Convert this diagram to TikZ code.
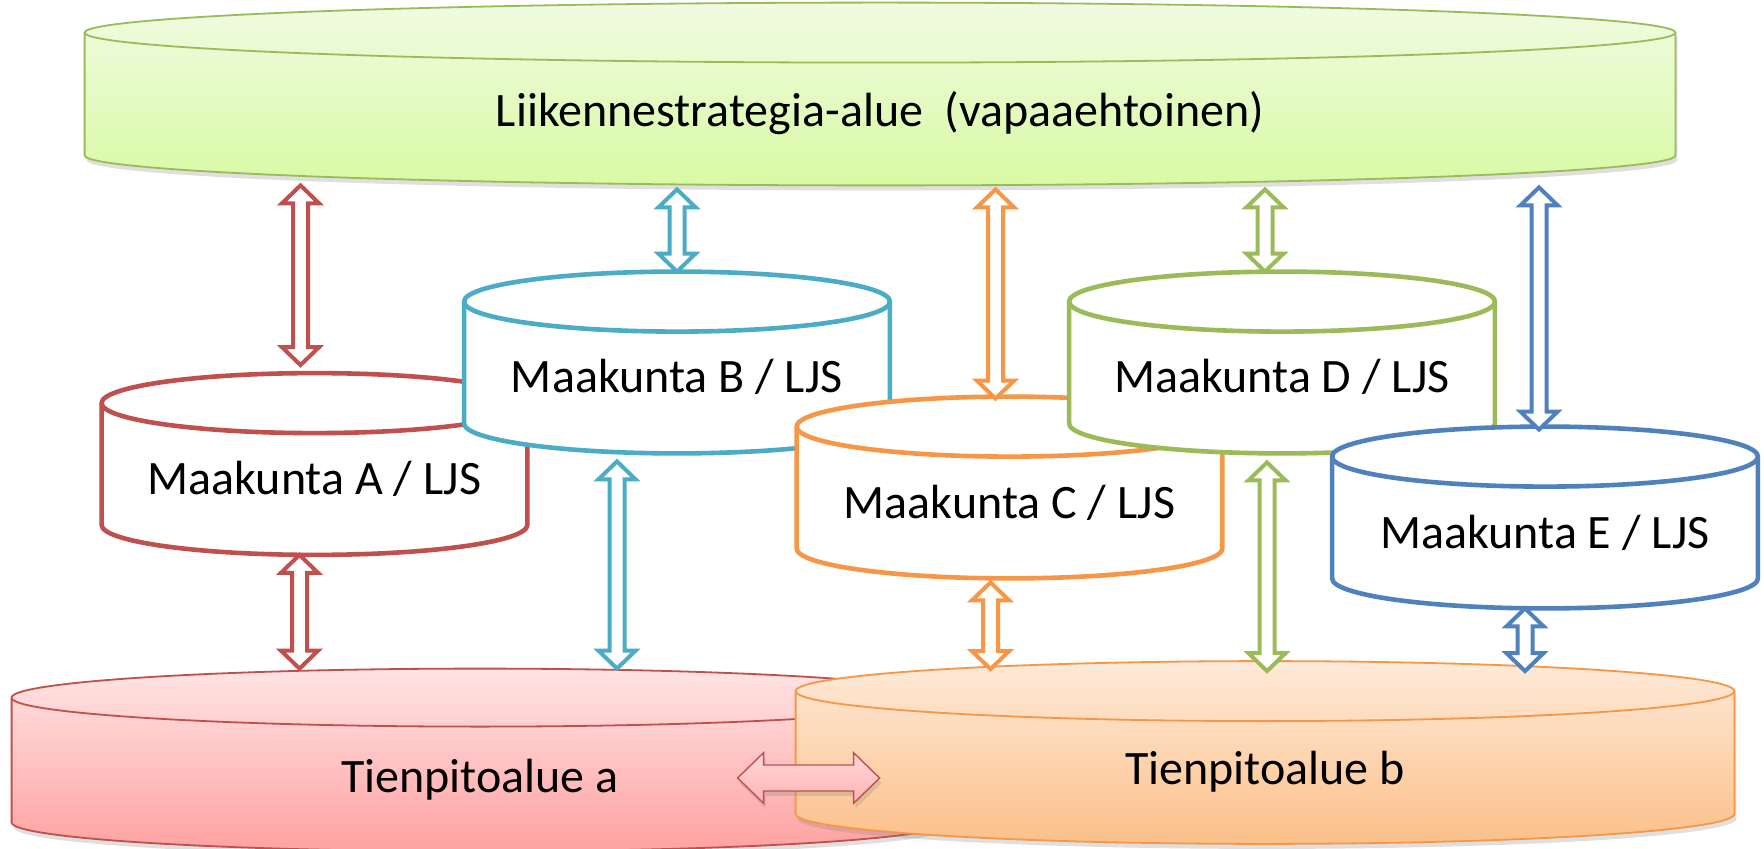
\documentclass[tikz,border=0pt]{standalone}
\usepackage{fontspec}
\setmainfont{Carlito}
\usepackage{xcolor}
\usepackage{tikz}
\usetikzlibrary{calc,backgrounds,shadows}

\definecolor{punainen}{HTML}{C0504D}
\definecolor{turkoosi}{HTML}{4BACC6}
\definecolor{oranssi}{HTML}{F79646}
\definecolor{vihrea}{HTML}{9BBB59}
\definecolor{sininen}{HTML}{4F81BD}
\definecolor{vihreaYla}{HTML}{F0FBE2}
\definecolor{vihreaAla}{HTML}{D9FAA4}
\definecolor{pinkkiYla}{HTML}{FFE4E4}
\definecolor{pinkkiAla}{HTML}{FFA1A1}
\definecolor{persikkaYla}{HTML}{FEEAD9}
\definecolor{persikkaAla}{HTML}{FCC089}
\definecolor{nuoliYla}{HTML}{FFD8D8}
\definecolor{nuoliAla}{HTML}{FFB3B3}

\newcommand{\isofontti}{\fontsize{24pt}{28pt}\selectfont}
% lierio node-ankkureista: #1 node, #2 ellipsin y-sade (px), #3 viiva, #4 tayttö
\newcommand{\lierio}[4]{%
  \begin{scope}[on background layer]
    \path[#3,#4] let \p1=(#1.west), \p2=(#1.east), \n1={(\x2-\x1)/2} in
      ($(#1.north west)+(0,#2)$) -- ($(#1.south west)+(0,-#2)$)
      arc[start angle=180, end angle=360, x radius=\n1, y radius=#2*0.5pt]
      -- ($(#1.north east)+(0,#2)$)
      arc[start angle=0, end angle=180, x radius=\n1, y radius=#2*0.5pt] -- cycle;
    \path[#3] let \p1=(#1.west), \p2=(#1.east), \n1={(\x2-\x1)/2} in
      ($(#1.north west)+(0,#2)$)
      arc[start angle=180, end angle=360, x radius=\n1, y radius=#2*0.5pt];
  \end{scope}}

\tikzset{
  maakunta/.style = {rectangle, inner sep=0pt, minimum width=212.5pt, minimum height=90.5pt, text height=30.5pt, text depth=0pt, font=\isofontti},
  alue/.style = {rectangle, inner sep=0pt, minimum height=91pt, text height=32pt, text depth=0pt, font=\isofontti},
  varjo/.style = {drop shadow={opacity=0.25, shadow xshift=1pt, shadow yshift=-2.5pt}},
  nuoli/.style = {draw=#1, fill=white, line width=2pt, to path={
    let \p1=(\tikztostart), \p2=(\tikztotarget), \n1={9*(\y2-\y1)/abs(\y2-\y1)} in
    (\x1,\y1) -- (\x1+9.3pt,\y1+\n1) -- (\x1+3.75pt,\y1+\n1) -- (\x1+3.75pt,\y2-\n1)
    -- (\x1+9.3pt,\y2-\n1) -- (\x1,\y2) -- (\x1-9.3pt,\y2-\n1) -- (\x1-3.75pt,\y2-\n1)
    -- (\x1-3.75pt,\y1+\n1) -- (\x1-9.3pt,\y1+\n1) -- cycle}},
  vaakanuoli/.style = {draw=punainen, line width=0.7pt, top color=nuoliYla, bottom color=nuoliAla, varjo, to path={
    let \p1=(\tikztostart), \p2=(\tikztotarget), \n1={13*(\x2-\x1)/abs(\x2-\x1)} in
    (\x1,\y1) -- (\x1+\n1,\y1+12.65pt) -- (\x1+\n1,\y1+6.5pt) -- (\x2-\n1,\y1+6.5pt)
    -- (\x2-\n1,\y1+12.65pt) -- (\x2,\y1) -- (\x2-\n1,\y1-12.65pt) -- (\x2-\n1,\y1-6.5pt)
    -- (\x1+\n1,\y1-6.5pt) -- (\x1+\n1,\y1-12.65pt) -- cycle}}
}

\begin{document}
\begin{tikzpicture}[x=0.5pt,y=-0.5pt]
  \useasboundingbox (0,0) rectangle (1764,849);
  \begin{scope}[on background layer]
    \fill[white] (0,0) rectangle (1764,849);
  \end{scope}

  % strategiataso
  \node[alue, minimum width=795pt, text height=33pt] (G) at (880,94) {Liikennestrategia-alue~ (vapaaehtoinen)};
  \lierio{G}{30}{draw=vihrea, line width=0.9pt}{top color=vihreaYla, bottom color=vihreaAla, varjo}

  % maakunnat
  \node[maakunta] (A) at (314.5,464) {Maakunta A / LJS};
  \lierio{A}{30}{draw=punainen, line width=2.3pt}{fill=white}
  \node[maakunta] (B) at (677,362.5) {Maakunta B / LJS};
  \lierio{B}{30}{draw=turkoosi, line width=2.3pt}{fill=white}
  \node[maakunta] (C) at (1009.5,487.5) {Maakunta C / LJS};
  \lierio{C}{30}{draw=oranssi, line width=2.3pt}{fill=white}
  \node[maakunta] (D) at (1282,362.5) {Maakunta D / LJS};
  \lierio{D}{30}{draw=vihrea, line width=2.3pt}{fill=white}
  \node[maakunta] (E) at (1545,517.5) {Maakunta E / LJS};
  \lierio{E}{30}{draw=sininen, line width=2.3pt}{fill=white}

  % tienpitoalueet
  \node[alue, minimum width=468pt] (Pa) at (480,760) {Tienpitoalue a};
  \lierio{Pa}{29}{draw=punainen, line width=0.9pt}{top color=pinkkiYla, bottom color=pinkkiAla, varjo}
  \node[alue, minimum width=469pt, text height=31.5pt] (Pb) at (1265,752.5) {Tienpitoalue b};
  \lierio{Pb}{30}{draw=oranssi, line width=0.9pt}{top color=persikkaYla, bottom color=persikkaAla, varjo}

  % nuolet
  \draw[nuoli=punainen] ($(A.north)+(-14,-8)$) to (G.south);
  \draw[nuoli=punainen] ($(A.south)+(-15,0)$) to (Pa.north);
  \draw[nuoli=turkoosi] (B.north) to ($(G.south)+(0,4)$);
  \draw[nuoli=turkoosi] ($(B.south)+(-60,8)$) to (Pa.north);
  \draw[nuoli=oranssi] ($(C.north)+(-14,2)$) to ($(G.south)+(0,4)$);
  \draw[nuoli=oranssi] ($(C.south)+(-19,4)$) to ($(Pb.north)+(0,8)$);
  \draw[nuoli=vihrea] ($(D.north)+(-17,0)$) to ($(G.south)+(0,4)$);
  \draw[nuoli=vihrea] ($(D.south)+(-15,9)$) to ($(Pb.north)+(0,10)$);
  \draw[nuoli=sininen] ($(E.north)+(-6,3)$) to ($(G.south)+(0,2)$);
  \draw[nuoli=sininen] ($(E.south)+(-20,0)$) to ($(Pb.north)+(0,10)$);
  \draw[vaakanuoli] ($(Pb.west)+(-58,25.5)$) to ($(Pb.west)+(84,25.5)$);
\end{tikzpicture}
\end{document}
